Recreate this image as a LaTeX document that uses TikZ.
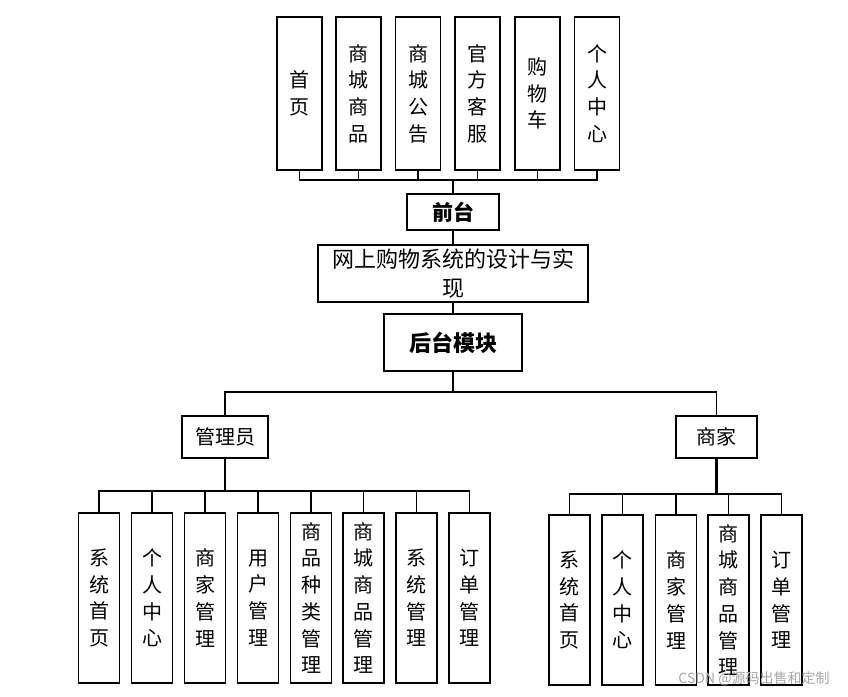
\documentclass[tikz,border=0pt]{standalone}
\usepackage{fontspec}
\setmainfont{Noto Sans CJK SC}
\usepackage{tikz}
\usepackage{xcolor}

\tikzset{
	box/.style={draw, line width=1.6pt, inner sep=0pt, align=center},
	colbox/.style={box, minimum width=41pt, minimum height=170pt,
		font=\fontsize{20}{26.7}\selectfont},
	topbox/.style={box, minimum width=45pt, minimum height=153pt,
		font=\fontsize{20}{26.7}\selectfont},
	link/.style={line width=1.3pt},
	trunk/.style={line width=2.4pt}
}

\begin{document}
\begin{tikzpicture}[x=1pt, y=-1pt]
		\useasboundingbox (0,0) rectangle (848,696);
		
		% front pages
		\node [topbox] (f1) at (299.5, 93.5) {首\\页};
		\node [topbox] (f2) at (358.5, 93.5) {商\\城\\商\\品};
		\node [topbox] (f3) at (418, 93.5) {商\\城\\公\\告};
		\node [topbox] (f4) at (477.5, 93.5) {官\\方\\客\\服};
		\node [topbox] (f5) at (537.5, 93.5) {购\\物\\车};
		\node [topbox] (f6) at (597, 93.5) {个\\人\\中\\心};
		
		% front
		\node [box, minimum width=92pt, minimum height=36pt, font=\fontsize{21}{24}\selectfont\bfseries] (front) at (453, 212) {前台};
		\coordinate (frontbus) at (453, 180);
		\draw [link] (f1.south) |- (frontbus);
		\draw [link] (f2.south) |- (frontbus);
		\draw [link] (f3.south) |- (frontbus);
		\draw [link] (f4.south) |- (frontbus);
		\draw [link] (f5.south) |- (frontbus);
		\draw [link] (f6.south) |- (frontbus);
		\draw [link] (frontbus) -- (front.north);
		
		% system
		\node [box, minimum width=270pt, minimum height=57pt, font=\fontsize{22}{29}\selectfont] (sys) at (453, 273.5) {网上购物系统的设计与实\\现};
		\draw [link] (front.south) -- (sys.north);
		
		% back
		\node [box, minimum width=138pt, minimum height=57pt, font=\fontsize{22}{26}\selectfont\bfseries] (back) at (453, 342.5) {后台模块};
		\draw [link] (sys.south) -- (back.north);
		
		% admin and merchant
		\node [box, minimum width=86pt, minimum height=42pt, font=\fontsize{20}{24}\selectfont] (admin) at (225, 437) {管理员};
		\node [box, minimum width=81pt, minimum height=42pt, font=\fontsize{20}{24}\selectfont] (shop) at (716.5, 437) {商家};
		\coordinate (backbus) at (453, 392);
		\draw [link] (back.south) -- (backbus);
		\draw [link] (admin.north) |- (backbus);
		\draw [link] (shop.north) |- (backbus);
		
		% admin pages
		\node [colbox] (a1) at (99, 598) {系\\统\\首\\页};
		\node [colbox] (a2) at (152, 598) {个\\人\\中\\心};
		\node [colbox] (a3) at (205, 598) {商\\家\\管\\理};
		\node [colbox] (a4) at (258, 598) {用\\户\\管\\理};
		\node [colbox] (a5) at (311, 598) {商\\品\\种\\类\\管\\理};
		\node [colbox] (a6) at (363.5, 598) {商\\城\\商\\品\\管\\理};
		\node [colbox] (a7) at (416.5, 598) {系\\统\\管\\理};
		\node [colbox] (a8) at (469.5, 598) {订\\单\\管\\理};
		\coordinate (adminbus) at (225, 491);
		\draw [trunk] (admin.south) -- (adminbus);
		\draw [link] (a1.north) |- (adminbus);
		\draw [link] (a2.north) |- (adminbus);
		\draw [link] (a3.north) |- (adminbus);
		\draw [link] (a4.north) |- (adminbus);
		\draw [link] (a5.north) |- (adminbus);
		\draw [link] (a6.north) |- (adminbus);
		\draw [link] (a7.north) |- (adminbus);
		\draw [link] (a8.north) |- (adminbus);
		
		% merchant pages
		\node [colbox] (s1) at (569.5, 600) {系\\统\\首\\页};
		\node [colbox] (s2) at (622.5, 600) {个\\人\\中\\心};
		\node [colbox] (s3) at (676, 600) {商\\家\\管\\理};
		\node [colbox] (s4) at (728.5, 600) {商\\城\\商\\品\\管\\理};
		\node [colbox] (s5) at (781.5, 600) {订\\单\\管\\理};
		\coordinate (shopbus) at (716.5, 494);
		\draw [trunk] (shop.south) -- (shopbus);
		\draw [link] (s1.north) |- (shopbus);
		\draw [link] (s2.north) |- (shopbus);
		\draw [link] (s3.north) |- (shopbus);
		\draw [link] (s4.north) |- (shopbus);
		\draw [link] (s5.north) |- (shopbus);
		
		% watermark
		\node [text=black!35, font=\fontsize{14}{16}\selectfont] (mark) at (754, 679) {CSDN @源码出售和定制};
		
\end{tikzpicture}
\end{document}
